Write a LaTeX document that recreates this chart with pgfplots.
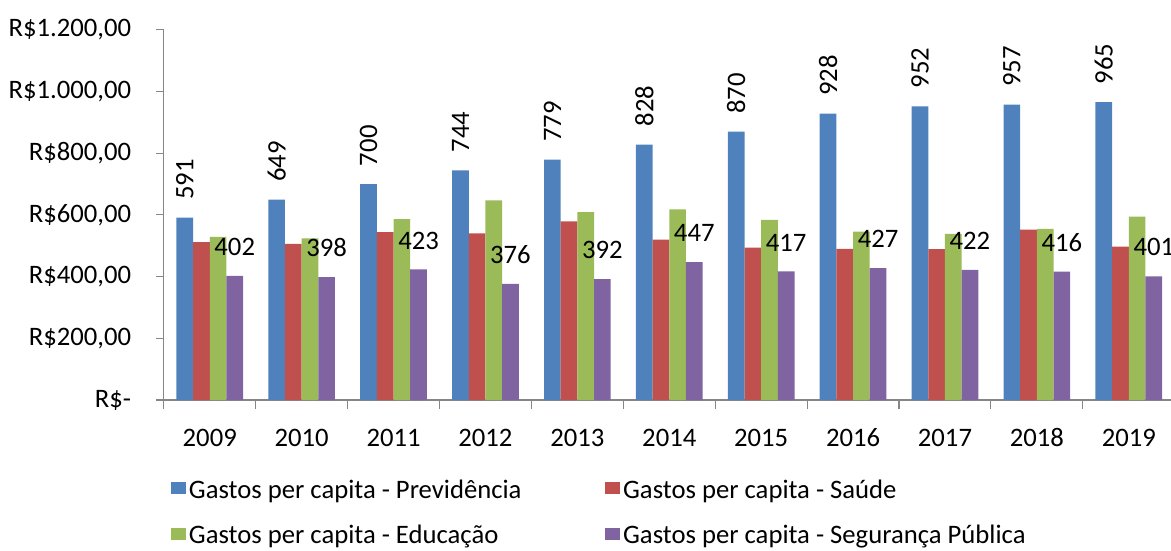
\documentclass[border=0pt]{standalone}
\usepackage{pgfplots}
\pgfplotsset{compat=1.18}
\usepackage{fontspec}
\setmainfont{Carlito}
\definecolor{cBlue}{HTML}{4F81BD}
\definecolor{cRed}{HTML}{C0504D}
\definecolor{cGreen}{HTML}{9BBB59}
\definecolor{cPurple}{HTML}{8064A2}
\definecolor{axisgray}{HTML}{868686}
\begin{document}
\begin{tikzpicture}[font=\fontsize{20}{24}\selectfont]
\begin{axis}[
  at={(0pt,0pt)}, anchor=south west,
  scale only axis, width=758.2pt, height=277.7pt,
  xmin=-0.5, xmax=10.5, ymin=0, ymax=1200,
  /pgf/number format/assume math mode=true,
  ybar=0pt, bar width=12.5pt,
  axis x line*=bottom, axis y line*=left,
  axis line style={draw=axisgray, line width=0.8pt, -},
  tick align=outside,
  xtick={0,1,2,3,4,5,6,7,8,9,10},
  xticklabels={2009,2010,2011,2012,2013,2014,2015,2016,2017,2018,2019},
  major x tick style={draw=none},
  minor xtick={-0.5,0.5,1.5,2.5,3.5,4.5,5.5,6.5,7.5,8.5,9.5,10.5},
  minor tick length=6.5pt,
  major tick length=5.5pt,
  every tick/.style={draw=axisgray, line width=0.8pt},
  ytick={0,200,400,600,800,1000,1200},
  yticklabels={{R\$-},{R\$200,00},{R\$400,00},{R\$600,00},{R\$800,00},{R\$1.000,00},{R\$1.200,00}},
  yticklabel style={xshift=-15.5pt},
  xticklabel style={anchor=north, text height=14pt, text depth=0pt, yshift=-11.6pt},
  legend columns=2,
  legend cell align=left,
  legend style={at={(0,0)}, anchor=north west, xshift=5.4pt, yshift=-57.5pt,
    draw=none, fill=none, inner sep=0pt, row sep=15pt,
    /tikz/every even column/.append style={column sep=61pt}},
  legend image code/.code={\fill[#1] (0pt,-3pt) rectangle (11.25pt,6pt);},
]
\addplot[fill=cBlue, draw=none,
  nodes near coords={\rotatebox{90}{\pgfmathprintnumber{\pgfplotspointmeta}}},
  every node near coord/.append style={anchor=south, inner sep=0pt, yshift=13.3pt, text=black}]
  coordinates {(0,591) (1,649) (2,700) (3,744) (4,779) (5,828) (6,870) (7,928) (8,952) (9,957) (10,965)};
\addplot[fill=cRed, draw=none]
  coordinates {(0,512) (1,506) (2,544) (3,540) (4,579) (5,520) (6,494) (7,490) (8,489) (9,552) (10,497)};
\addplot[fill=cGreen, draw=none]
  coordinates {(0,529) (1,524) (2,586) (3,647) (4,609) (5,618) (6,584) (7,546) (8,538) (9,555) (10,594)};
\addplot[fill=cPurple, draw=none,
  nodes near coords,
  every node near coord/.append style={anchor=south, inner sep=0pt, yshift=15pt, text=black}]
  coordinates {(0,402) (1,398) (2,423) (3,376) (4,392) (5,447) (6,417) (7,427) (8,422) (9,416) (10,401)};
\legend{Gastos per capita - Previdência, Gastos per capita - Saúde, Gastos per capita - Educação, Gastos per capita - Segurança Pública}
\end{axis}
\pgfresetboundingbox
\useasboundingbox (-122.85pt,-112.5pt) rectangle (755.4pt,300pt);
\end{tikzpicture}
\end{document}
